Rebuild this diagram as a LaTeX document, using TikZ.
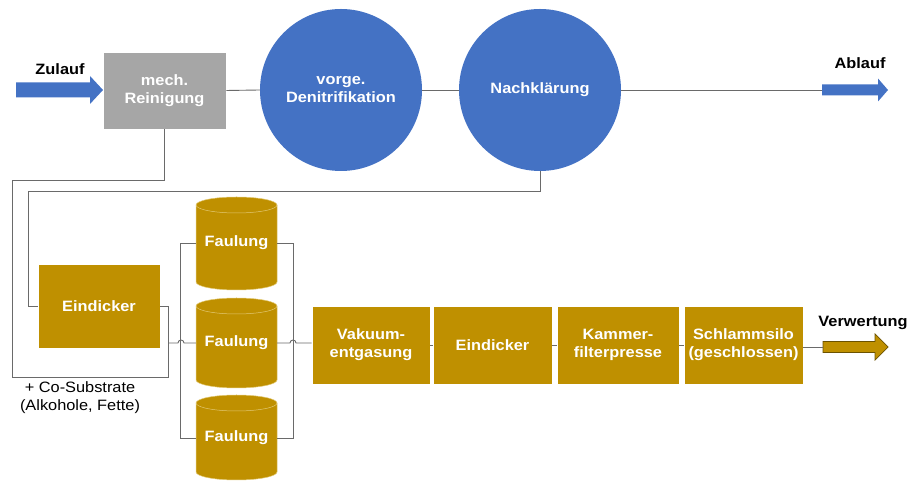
\documentclass[tikz,border=0pt]{standalone}
\usepackage{fontspec}
\setmainfont{Liberation Sans}[FakeStretch=1.09]
\usetikzlibrary{calc}
\definecolor{kblue}{HTML}{4472C4}
\definecolor{kgold}{HTML}{BF9000}
\definecolor{kgray}{HTML}{A6A6A6}
\definecolor{kline}{HTML}{6A6A6A}
\definecolor{kedge}{HTML}{6B5200}
\definecolor{krim}{HTML}{E2C873}

\tikzset{
  pipe/.style={draw=kline, line width=0.9pt},
  unit/.style={rectangle, fill=kgold, draw=white, line width=0.6pt, text=white,
    align=center, inner sep=0pt},
  graybox/.style={rectangle, fill=kgray, draw=white, line width=0.6pt, text=white,
    align=center, inner sep=0pt},
  basin/.style={circle, fill=kblue, text=white, align=center, inner sep=0pt,
    minimum size=162pt},
  tag/.style={text=black, inner sep=0pt},
  cylbody/.style={fill=kgold, draw=krim, line width=0.5pt},
  cyltext/.style={text=white, inner sep=0pt, minimum width=81pt},
}

% one digester tank: top edge, bottom edge
\newcommand{\digester}[2]{%
  \path[cylbody] (196,#1-8) -- (196,#2+8)
    arc[start angle=180, end angle=360, x radius=40.5pt, y radius=8pt]
    -- (277,#1-8)
    arc[start angle=0, end angle=180, x radius=40.5pt, y radius=8pt] -- cycle;
  \draw[krim, line width=0.5pt] (196,#1-8)
    arc[start angle=180, end angle=360, x radius=40.5pt, y radius=8pt];
}

\begin{document}
\begin{tikzpicture}[x=1pt, y=1pt, font=\fontsize{15}{18}\selectfont\bfseries]
\useasboundingbox (0,0) rectangle (912,481);

% --- water line ---
\fill[kblue] (16,383.5) -- (90,383.5) -- (90,377) -- (103,391) -- (90,405)
  -- (90,398.5) -- (16,398.5) -- cycle;
\node[tag] (zulauf) at (60,412) {Zulauf};

\node[graybox, minimum width=123pt, minimum height=77pt] (mech) at (164.5,390.5)
  {mech.\\Reinigung};
\node[basin] (deni) at (341,391) {vorge.\\Denitrifikation};
\node[basin] (nach) at (540,391) {Nachklärung};

\coordinate (aL) at (822,391);
\fill[kblue] (822,385.5) -- (878,385.5) -- (878,379.5) -- (888,391) -- (878,402.5)
  -- (878,396.5) -- (822,396.5) -- cycle;
\node[tag] (ablauf) at (860,418) {Ablauf};

\draw[pipe] (mech.east) -- (deni.west);
\draw[pipe] (deni.east) -- (nach.west);
\draw[pipe] (nach.east) -- (aL);

% --- sludge line ---
\node[unit, minimum width=122pt, minimum height=84pt] (eind1) at (99,175) {Eindicker};

\digester{284}{191}
\digester{183}{93}
\digester{86}{1}
\node[cyltext] (f1) at (236.5,238) {Faulung};
\node[cyltext] (f2) at (236.5,138) {Faulung};
\node[cyltext] (f3) at (236.5,43) {Faulung};

\node[unit, minimum width=118pt, minimum height=78pt] (vak) at (371,136)
  {Vakuum-\\entgasung};
\node[unit, minimum width=119pt, minimum height=78pt] (eind2) at (492.5,136)
  {Eindicker};
\node[unit, minimum width=122pt, minimum height=78pt] (kammer) at (618,136)
  {Kammer-\\filterpresse};
\node[unit, minimum width=119pt, minimum height=78pt] (silo) at (743.5,136)
  {Schlammsilo\\(geschlossen)};

\coordinate (vL) at (823,134);
\filldraw[fill=kgold, draw=kedge, line width=0.7pt] (823,128.5) -- (875,128.5)
  -- (875,121) -- (888,134) -- (875,147) -- (875,139.5) -- (823,139.5) -- cycle;
\node[tag] (verw) at (863,158) {Verwertung};

% return lines
\coordinate (s1) at (28,290);
\draw[pipe] (nach.south) |- (s1) |- (eind1.west);

\coordinate (r1) at (12,301);
\coordinate (r2) at (12,104);
\coordinate (tee) at (168,138);
\draw[pipe] (mech.south) |- (r1) -- (r2) -| (tee);
\draw[pipe] (eind1.east) -| (tee);

% digester manifolds
\draw[pipe] (f1.west) -- ++(-15,0) |- (f3.west);
\draw[pipe] (f1.east) -- ++(16,0) |- (f3.east);
\draw[pipe] (tee) -- (178,138) arc[start angle=180, end angle=0, radius=3pt]
  -- (f2.west);
\draw[pipe] (f2.east) -- (290,138) arc[start angle=180, end angle=0, radius=3pt]
  -- (vak.west |- f2.east);

\draw[pipe] (vak.east) -- (eind2.west);
\draw[pipe] (eind2.east) -- (kammer.west);
\draw[pipe] (kammer.east) -- (silo.west);
\draw[pipe] (silo.east |- vL) -- (vL);

\node[tag, font=\fontsize{15}{18}\selectfont\mdseries, align=center] (cosub)
  at (80,83) {+ Co-Substrate\\(Alkohole, Fette)};
\end{tikzpicture}
\end{document}
